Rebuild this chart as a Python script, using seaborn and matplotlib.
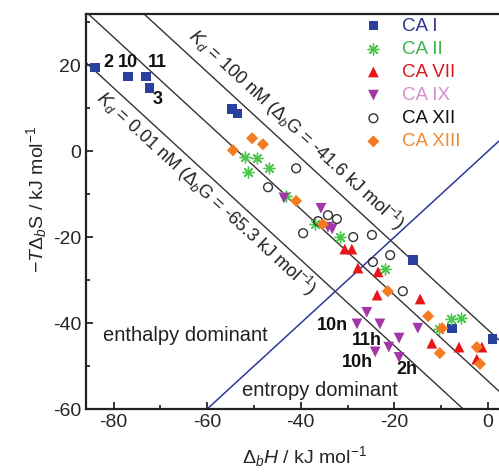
import matplotlib
matplotlib.use('Agg')
import matplotlib.pyplot as plt
import seaborn as sns
import pandas as pd
from matplotlib.ticker import MultipleLocator

# Binding enthalpy (dH) and entropy term (-TdS), kJ/mol, per isoform
ca1_dH = [-84.0, -76.9, -73.1, -72.4, -54.7, -53.6, -16.0, -7.7, 0.9]
ca1_TdS = [19.5, 17.4, 17.4, 14.7, 9.8, 8.8, -25.3, -41.2, -43.7]

ca2_dH = [-51.9, -49.4, -46.8, -51.3, -43.2, -37.0, -31.6, -22.0, -10.5, -7.8, -5.8]
ca2_TdS = [-1.4, -1.6, -4.0, -4.9, -10.5, -17.0, -20.0, -27.4, -41.5, -39.1, -38.9]

ca7_dH = [-30.6, -29.1, -27.8, -23.5, -23.7, -14.5, -12.0, -6.2, -1.3, -2.4]
ca7_TdS = [-22.8, -22.8, -27.2, -28.1, -33.5, -34.4, -44.7, -45.6, -45.6, -48.4]

ca9_dH = [-43.6, -35.7, -34.2, -33.3, -25.9, -28.0, -23.1, -19.0, -21.2, -24.1, -19.0, -15.0]
ca9_TdS = [-10.9, -13.3, -17.7, -18.1, -37.5, -40.2, -40.2, -43.5, -45.6, -46.7, -48.0, -41.2]

ca12_dH = [-41.0, -47.0, -34.2, -32.3, -36.3, -39.5, -28.8, -24.8, -24.6, -20.9, -18.2]
ca12_TdS = [-4.0, -8.4, -14.9, -15.8, -16.3, -19.1, -20.0, -19.5, -25.8, -24.2, -32.6]

ca13_dH = [-50.4, -48.1, -54.5, -41.0, -35.3, -21.4, -12.8, -9.8, -10.3, -2.4, -1.7]
ca13_TdS = [3.0, 1.6, 0.2, -11.6, -17.0, -32.6, -38.4, -41.2, -47.0, -45.6, -49.5]

# compound labels
point_labels = ['2', '10', '11', '3', '10n', '11h', '10h', '2h']
label_x = [-81.2, -76.9, -70.7, -70.7, -33.3, -25.9, -27.8, -17.3]
label_y = [20.7, 20.5, 20.5, 11.9, -40.5, -44.0, -49.1, -50.9]

# iso-affinity lines: dG = dH + (-TdS)
kd_text = ['0.01 nM', '1 nM', '100 nM']
dG_lines = [-65.3, -53.5, -41.6]

sns.set_style('ticks')
plt.rcParams['font.family'] = ['Liberation Sans', 'DejaVu Sans']
plt.rcParams['mathtext.fontset'] = 'custom'
plt.rcParams['mathtext.rm'] = 'Liberation Sans'
plt.rcParams['mathtext.it'] = 'Liberation Sans:italic'
plt.rcParams['axes.unicode_minus'] = False

fig = plt.figure(figsize=(4.99, 4.72), dpi=100)
ax = fig.add_axes([86 / 499, 63 / 472, 413 / 499, 395 / 472])

series = [
    ('CA I', ca1_dH, ca1_TdS, dict(marker='s', color='#2b3f9e', s=45, edgecolor='none'), '#2e3192'),
    ('CA II', ca2_dH, ca2_TdS, dict(marker=(8, 2, 0), color='#4cc94c', s=60, linewidth=1.0), '#39b54a'),
    ('CA VII', ca7_dH, ca7_TdS, dict(marker='^', color='#e8161b', s=60, edgecolor='none'), '#d7191f'),
    ('CA IX', ca9_dH, ca9_TdS, dict(marker='v', color='#a437a6', s=60, edgecolor='none'), '#d98bd6'),
    ('CA XII', ca12_dH, ca12_TdS, dict(marker='o', facecolor='none', edgecolor='#333333', s=40, linewidth=1.0), '#111111'),
    ('CA XIII', ca13_dH, ca13_TdS, dict(marker='D', color='#f47b20', s=38, edgecolor='none'), '#f08a30'),
]

for name, xs, ys, kws, _ in series:
    df = pd.DataFrame({'dH': xs, 'TdS': ys})
    sns.scatterplot(data=df, x='dH', y='TdS', ax=ax, label=name, zorder=3, **kws)

for c in dG_lines:
    ax.axline((0, c), slope=-1, color='#333333', lw=1.0, zorder=1)
ax.axline((0, 0), slope=1, color='#2b3a9a', lw=1.1, zorder=1)

ax.set_xlim(-85.9, 2.35)
ax.set_ylim(-60, 31.9)
ax.xaxis.set_major_locator(MultipleLocator(20))
ax.xaxis.set_minor_locator(MultipleLocator(10))
ax.yaxis.set_major_locator(MultipleLocator(20))
ax.yaxis.set_minor_locator(MultipleLocator(10))
ax.tick_params(which='both', direction='in', top=False, right=False, labelsize=14, width=1.3)
ax.tick_params(which='major', length=5)
ax.tick_params(which='minor', length=3)
for sp in ['left', 'bottom', 'top']:
    ax.spines[sp].set_linewidth(1.6)
    ax.spines[sp].set_color('#222222')
ax.spines['right'].set_visible(False)

ax.set_xlabel(r'$\Delta_{b}H$ / kJ mol$^{-1}$', fontsize=14)
ax.xaxis.set_label_coords(0.528, -0.088)
ax.set_ylabel(r'$-T\Delta_{b}$S / kJ mol$^{-1}$', fontsize=14)
ax.yaxis.set_label_coords(-0.09, 0.53)

# affinity labels along the lines
ax.text(-41.0, 4.9, r'$K_d$ = 100 nM ($\Delta_{b}$G = -41.6 kJ mol$^{-1}$)', fontsize=13,
        rotation=-45, transform_rotates_text=True, rotation_mode='anchor',
        ha='center', va='center', color='#222222')
ax.text(-60.3, -9.8, r'$K_d$ = 0.01 nM ($\Delta_{b}$G = -65.3 kJ mol$^{-1}$)', fontsize=13,
        rotation=-45, transform_rotates_text=True, rotation_mode='anchor',
        ha='center', va='center', color='#222222')

ax.text(-64.7, -42.8, 'enthalpy dominant', fontsize=14.5, ha='center', va='center', color='#222222')
ax.text(-35.9, -55.6, 'entropy dominant', fontsize=14.5, ha='center', va='center', color='#222222')

for t, x, y in zip(point_labels, label_x, label_y):
    ax.text(x, y, t, fontsize=13, fontweight='bold', ha='center', va='center', color='#111111')

leg = ax.legend(loc='upper left', bbox_to_anchor=(0.655, 1.01), frameon=False, fontsize=13.5,
                handletextpad=1.0, labelspacing=0.32, handlelength=1.0, borderaxespad=0.0,
                labelcolor=[s[4] for s in series])

fig.savefig('out.png', dpi=100)
